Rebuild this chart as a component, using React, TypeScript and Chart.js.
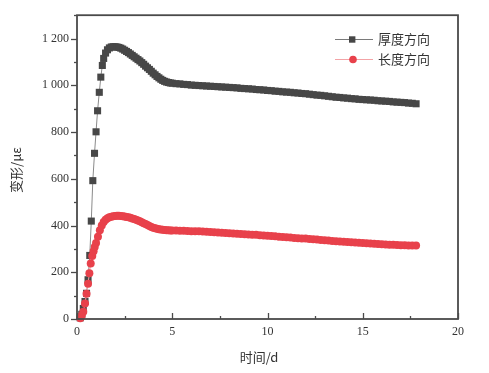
import { useEffect, useRef } from 'react';
import { Chart, registerables } from 'chart.js';

Chart.register(...registerables);

// ---- data ----
const seriesNames = ['厚度方向', '长度方向'];
const xTitle = '时间/d';
const yTitle = '变形/με';
const xTickValues = [0, 5, 10, 15, 20];
const yTickValues = [0, 200, 400, 600, 800, 1000, 1200];

const thickEarlyDays = [0.17, 0.25, 0.33, 0.42, 0.5, 0.58, 0.67, 0.75, 0.83, 0.92, 1.0, 1.08, 1.17, 1.25, 1.33];
const thickEarlyVals = [5, 20, 45, 75, 110, 168, 272, 419, 592, 709, 801, 891, 970, 1035, 1085];

const lengthEarlyDays = [0.17, 0.25, 0.33, 0.42, 0.5, 0.58, 0.65, 0.72, 0.8, 0.87, 0.93, 1.0, 1.1, 1.2, 1.3];
const lengthEarlyVals = [3, 15, 31, 66, 108, 151, 196, 238, 270, 290, 308, 325, 352, 380, 400];

const midDays = [1.4, 1.5, 1.6, 1.7, 1.8, 1.9, 2.0, 2.1, 2.2, 2.3, 2.4, 2.5, 2.6, 2.7, 2.8, 2.9, 3.0, 3.1, 3.2, 3.3, 3.4, 3.5, 3.6, 3.7, 3.8, 3.9, 4.0, 4.1, 4.2, 4.3, 4.4, 4.5, 4.6, 4.7, 4.8, 4.9, 5.0];
const thickMidVals = [1115, 1138, 1152, 1160, 1164, 1165, 1165, 1164, 1162, 1159, 1155, 1150, 1145, 1140, 1134, 1128, 1122, 1116, 1110, 1104, 1097, 1090, 1082, 1075, 1068, 1060, 1052, 1045, 1038, 1032, 1026, 1021, 1017, 1014, 1012, 1010, 1009];
const lengthMidVals = [415, 425, 431, 435, 438, 440, 441, 442, 442, 441, 440, 439, 437, 435, 433, 430, 428, 425, 422, 418, 414, 410, 406, 402, 398, 394, 391, 388, 386, 384, 383, 382, 381, 380, 380, 379, 379];

const lateDays = [5.2, 5.4, 5.6, 5.8, 6.0, 6.2, 6.4, 6.6, 6.8, 7.0, 7.2, 7.4, 7.6, 7.8, 8.0, 8.2, 8.4, 8.6, 8.8, 9.0, 9.2, 9.4, 9.6, 9.8, 10.0, 10.2, 10.4, 10.6, 10.8, 11.0, 11.2, 11.4, 11.6, 11.8, 12.0, 12.2, 12.4, 12.6, 12.8, 13.0, 13.2, 13.4, 13.6, 13.8, 14.0, 14.2, 14.4, 14.6, 14.8, 15.0, 15.2, 15.4, 15.6, 15.8, 16.0, 16.2, 16.4, 16.6, 16.8, 17.0, 17.2, 17.4, 17.6, 17.8];
const thickLateVals = [1007, 1006, 1004, 1003, 1001, 1000, 999, 998, 997, 996, 995, 994, 993, 992, 991, 990, 989, 987, 986, 985, 984, 982, 981, 980, 978, 977, 975, 974, 972, 971, 970, 968, 967, 965, 964, 962, 960, 958, 957, 955, 953, 951, 949, 948, 946, 945, 943, 942, 940, 939, 938, 937, 936, 934, 933, 932, 931, 929, 928, 927, 926, 924, 923, 921];
const lengthLateVals = [379, 378, 378, 377, 376, 375, 375, 374, 373, 372, 371, 370, 369, 368, 367, 366, 365, 364, 363, 362, 361, 360, 358, 357, 356, 355, 354, 352, 351, 350, 349, 347, 346, 345, 344, 342, 341, 340, 338, 337, 336, 334, 333, 332, 331, 330, 328, 327, 326, 325, 324, 323, 322, 321, 320, 319, 318, 318, 317, 316, 316, 315, 315, 314];

const thickDays = [...thickEarlyDays, ...midDays, ...lateDays];
const thickVals = [...thickEarlyVals, ...thickMidVals, ...thickLateVals];
const lengthDays = [...lengthEarlyDays, ...midDays, ...lateDays];
const lengthVals = [...lengthEarlyVals, ...lengthMidVals, ...lengthLateVals];

const toPoints = (xs: number[], ys: number[]) => xs.map((x, i) => ({ x, y: ys[i] }));

const SERIF = "'Liberation Serif', 'DejaVu Serif', serif";
const CJK = "'Noto Sans CJK SC', 'Liberation Serif', sans-serif";
const AXIS = '#4a4a4a';
const TEXT = '#333333';
const DARK = '#474747';
const RED = '#e8414b';

const decorPlugin = {
  id: 'decor',
  afterDatasetsDraw(chart: any) {
    const { ctx, chartArea: a, scales } = chart;
    const xs = scales.x;
    const ys = scales.y;
    ctx.save();
    // frame
    ctx.strokeStyle = AXIS;
    ctx.lineWidth = 1.8;
    ctx.strokeRect(a.left, a.top, a.right - a.left, a.bottom - a.top);
    ctx.lineWidth = 1.3;
    // x ticks (inward)
    for (let v = 0; v <= 20; v += 2.5) {
      const px = Math.round(xs.getPixelForValue(v)) + 0.5;
      const len = v % 5 === 0 ? 6 : 3;
      ctx.beginPath();
      ctx.moveTo(px, a.bottom);
      ctx.lineTo(px, a.bottom - len);
      ctx.stroke();
    }
    // y ticks (outward)
    for (let v = 0; v <= 1300; v += 100) {
      const py = Math.round(ys.getPixelForValue(v)) + 0.5;
      const len = v % 200 === 0 ? 6 : 3;
      ctx.beginPath();
      ctx.moveTo(a.left, py);
      ctx.lineTo(a.left - len, py);
      ctx.stroke();
    }
    // axis titles
    ctx.fillStyle = TEXT;
    ctx.font = `13px ${CJK}`;
    ctx.textAlign = 'center';
    ctx.textBaseline = 'middle';
    ctx.fillText(xTitle, 259, 357);
    ctx.save();
    ctx.translate(16, 170);
    ctx.rotate(-Math.PI / 2);
    ctx.fillText(yTitle, 0, 0);
    ctx.restore();
    // legend
    const items = [
      { label: seriesNames[0], line: '#7a7a7a', fill: DARK, style: 'rect', y: 39.5 },
      { label: seriesNames[1], line: '#f3a3a6', fill: RED, style: 'circle', y: 59.5 },
    ];
    items.forEach((it) => {
      ctx.strokeStyle = it.line;
      ctx.lineWidth = 1;
      ctx.beginPath();
      ctx.moveTo(335, it.y);
      ctx.lineTo(373, it.y);
      ctx.stroke();
      ctx.fillStyle = it.fill;
      if (it.style === 'rect') {
        ctx.fillRect(349, it.y - 3.2, 6.4, 6.4);
      } else {
        ctx.beginPath();
        ctx.arc(353, it.y, 3.8, 0, Math.PI * 2);
        ctx.fill();
      }
      ctx.fillStyle = TEXT;
      ctx.font = `13px ${CJK}`;
      ctx.textAlign = 'left';
      ctx.textBaseline = 'middle';
      ctx.fillText(it.label, 378, it.y);
    });
    ctx.restore();
  },
};

export default function App() {
  const ref = useRef<HTMLCanvasElement>(null);
  useEffect(() => {
    document.body.style.margin = '0';
    const chart = new Chart(ref.current!, {
      type: 'scatter',
      data: {
        datasets: [
          {
            label: seriesNames[1],
            data: toPoints(lengthDays, lengthVals),
            showLine: true,
            borderColor: '#f3a3a6',
            borderWidth: 1,
            pointStyle: 'circle',
            pointRadius: 4,
            pointBackgroundColor: RED,
            pointBorderColor: RED,
            pointBorderWidth: 0,
            clip: false,
          },
          {
            label: seriesNames[0],
            data: toPoints(thickDays, thickVals),
            showLine: true,
            borderColor: '#8a8a8a',
            borderWidth: 1,
            pointStyle: 'rect',
            pointRadius: 5,
            pointBackgroundColor: DARK,
            pointBorderColor: DARK,
            pointBorderWidth: 0,
            clip: false,
          },
        ],
      },
      options: {
        animation: false,
        responsive: false,
        devicePixelRatio: 1,
        layout: { padding: { left: 0, top: 12, right: 31, bottom: 0 } },
        plugins: { legend: { display: false }, tooltip: { enabled: false } },
        scales: {
          x: {
            type: 'linear',
            min: 0,
            max: 20,
            afterFit: (s: any) => { s.height = 54; },
            afterBuildTicks: (s: any) => { s.ticks = xTickValues.map((value) => ({ value })); },
            grid: { display: false, drawTicks: false },
            border: { display: false },
            ticks: { padding: 6, color: TEXT, font: { family: SERIF, size: 12 }, maxRotation: 0 },
          },
          y: {
            type: 'linear',
            min: 0,
            max: 1300,
            afterFit: (s: any) => { s.width = 77; },
            afterBuildTicks: (s: any) => { s.ticks = yTickValues.map((value) => ({ value })); },
            grid: { display: false, drawTicks: false },
            border: { display: false },
            ticks: {
              padding: 8,
              color: TEXT,
              font: { family: SERIF, size: 12 },
              callback: (v: any) => String(v).replace(/\B(?=(\d{3})+(?!\d))/g, ' '),
            },
          },
        },
      },
      plugins: [decorPlugin],
    });
    return () => chart.destroy();
  }, []);
  return (
    <div style={{ position: 'absolute', left: 0, top: 0, width: 489, height: 373, background: '#fff' }}>
      <canvas ref={ref} width={489} height={373} style={{ display: 'block', width: 489, height: 373 }} />
    </div>
  );
}
